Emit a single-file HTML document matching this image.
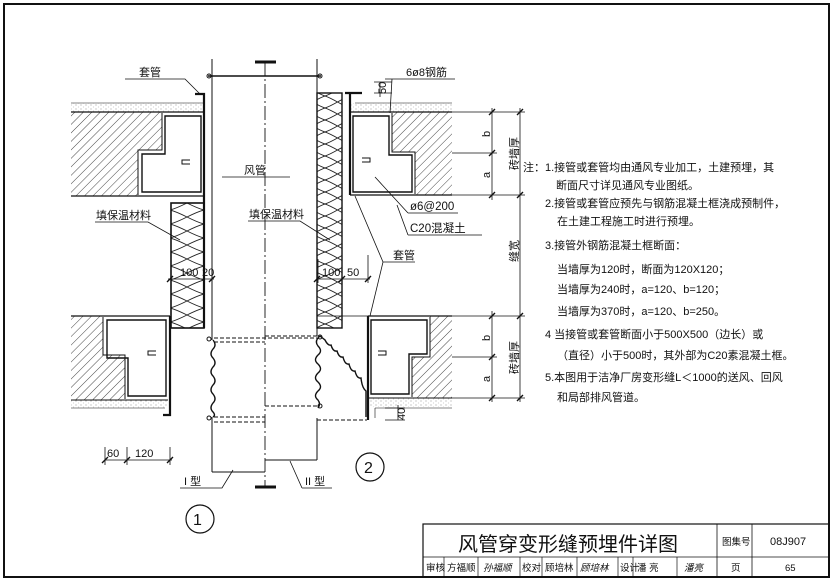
<!DOCTYPE html>
<html><head><meta charset="utf-8"><style>
html,body{margin:0;padding:0;background:#fff}
svg{display:block}
text{font-family:"Liberation Sans","Noto Sans CJK SC",sans-serif;fill:#111}
</style></head><body>
<svg width="834" height="581" viewBox="0 0 834 581" xmlns="http://www.w3.org/2000/svg">
<defs>
<pattern id="h" width="6" height="6" patternUnits="userSpaceOnUse" patternTransform="rotate(45)">
<line x1="0" y1="0" x2="0" y2="6" stroke="#333" stroke-width="0.9"/></pattern>
<pattern id="dot" width="5" height="4" patternUnits="userSpaceOnUse">
<circle cx="1" cy="1" r="0.5" fill="#777"/><circle cx="3.5" cy="3" r="0.4" fill="#999"/></pattern>
<pattern id="ins" width="34" height="14" patternUnits="userSpaceOnUse">
<path d="M0,0 C12,3 22,11 34,14 M34,0 C22,3 12,11 0,14" fill="none" stroke="#222" stroke-width="0.9"/></pattern>
<pattern id="ins2" width="25" height="12" patternUnits="userSpaceOnUse">
<path d="M0,0 C9,3 16,9 25,12 M25,0 C16,3 9,9 0,12" fill="none" stroke="#222" stroke-width="0.9"/></pattern>
</defs>
<g fill="none" stroke="#111">
<!-- frame -->
<rect x="4" y="4" width="825" height="573" stroke-width="2"/>
<!-- title block -->
<rect x="423" y="524" width="406" height="53" stroke-width="1.2"/>
<line x1="423" y1="557" x2="829" y2="557" stroke-width="0.8"/>
<line x1="717" y1="524" x2="717" y2="577" stroke-width="0.8"/>
<line x1="752" y1="524" x2="752" y2="577" stroke-width="0.8"/>
<g stroke-width="0.7">
<line x1="444" y1="557" x2="444" y2="577"/><line x1="478" y1="557" x2="478" y2="577"/>
<line x1="520" y1="557" x2="520" y2="577"/><line x1="542" y1="557" x2="542" y2="577"/>
<line x1="577" y1="557" x2="577" y2="577"/><line x1="618" y1="557" x2="618" y2="577"/>
<line x1="633" y1="557" x2="633" y2="577"/><line x1="677" y1="557" x2="677" y2="577"/>
</g>

<!-- LEFT TOP WALL -->
<rect x="71" y="103" width="133" height="9" fill="url(#dot)" stroke="none"/>
<line x1="71" y1="103" x2="204" y2="103" stroke-width="0.6"/>
<path d="M71,112 H162 V150 H138 V196 H71 Z" fill="url(#h)" stroke="none"/>
<line x1="71" y1="112" x2="204" y2="112" stroke-width="1.2"/>
<line x1="71" y1="196" x2="204" y2="196" stroke-width="1.2"/>
<path d="M162,113 V150 H138 V195" stroke-width="1"/>
<path d="M165,116 H201 V192 H142 V154 H165 Z" stroke-width="1.4"/>
<!-- sleeve left -->
<path d="M195,94 H204 V328" stroke-width="2.2"/>
<!-- LEFT BOTTOM WALL -->
<path d="M71,316 H103 V355 H125 V400 H71 Z" fill="url(#h)" stroke="none"/>
<line x1="71" y1="316" x2="170" y2="316" stroke-width="1.2"/>
<rect x="71" y="400" width="97" height="8" fill="url(#dot)" stroke="none"/>
<line x1="71" y1="400" x2="168" y2="400" stroke-width="1"/>
<line x1="71" y1="408" x2="165" y2="408" stroke-width="0.6"/>
<path d="M103,317 V355 H125 V399" stroke-width="1"/>
<path d="M107,320 H166 V396 H128 V358 H107 Z" stroke-width="1.4"/>
<path d="M170,316 V415 H163" stroke-width="2.2"/>
<!-- insulation left -->
<rect x="171" y="203" width="33" height="125" fill="url(#ins)" stroke-width="1.6"/>
<!-- RIGHT TOP WALL -->
<rect x="350" y="103" width="102" height="9" fill="url(#dot)" stroke="none"/>
<line x1="355" y1="103" x2="452" y2="103" stroke-width="0.6"/>
<path d="M392,112 H452 V195 H415 V152 H392 Z" fill="url(#h)" stroke="none"/>
<line x1="350" y1="112" x2="452" y2="112" stroke-width="1.2"/>
<line x1="350" y1="195" x2="452" y2="195" stroke-width="1.2"/>
<path d="M392,113 V152 H415 V194" stroke-width="1"/>
<path d="M353,116 H389 V155 H412 V192 H353 Z" stroke-width="1.4"/>
<path d="M345,93 H362 M350,93 V195" stroke-width="2.2"/>
<!-- RIGHT BOTTOM WALL -->
<path d="M430,316 H452 V398 H412 V357 H430 Z" fill="url(#h)" stroke="none"/>
<line x1="317" y1="316" x2="452" y2="316" stroke-width="0.8"/>
<line x1="368" y1="316" x2="452" y2="316" stroke-width="1.2"/>
<rect x="370" y="398" width="82" height="9" fill="url(#dot)" stroke="none"/>
<line x1="368" y1="398" x2="452" y2="398" stroke-width="1"/>
<path d="M375,408 H452 M375,408 V418" stroke-width="0.6"/>
<path d="M430,317 V357 H412 V397" stroke-width="1"/>
<path d="M371,320 H427 V354 H409 V394 H371 Z" stroke-width="1.4"/>
<path d="M368,316 V420" stroke-width="2.2"/>
<!-- insulation right -->
<rect x="317" y="93" width="25" height="235" fill="url(#ins2)" stroke-width="1.4"/>
<!-- nubs -->
<g stroke-width="1"><path d="M190,160 h-8 v4 h8 M156,351 h-8 v4 h8 M362,158 h8 v4 h-8 M378,351 h8 v4 h-8"/></g>

<!-- DUCT -->
<line x1="212" y1="59" x2="212" y2="340" stroke-width="1"/>
<line x1="212" y1="417" x2="212" y2="472" stroke-width="1"/>
<line x1="317" y1="59" x2="317" y2="336" stroke-width="1"/>
<line x1="317" y1="418" x2="317" y2="460" stroke-width="1"/>
<path d="M212,472 H265 M317,460 H265" stroke-width="1"/>
<line x1="265" y1="62" x2="265" y2="487" stroke-width="0.9" stroke-dasharray="14,3,2,3"/>
<path d="M255,62 H276 M255,487 H276" stroke-width="3"/>
<line x1="208" y1="76" x2="321" y2="76" stroke-width="1.4"/>
<circle cx="209" cy="76" r="2"/><circle cx="320" cy="76" r="2"/>
<!-- bolted joints -->
<g stroke-width="1" stroke-dasharray="4,2">
<path d="M214,338 H317 M214,342 H265 M265,336 H317 M214,417 H265 M214,422 H265 M265,406 H317 M317,420 H367"/>
</g>
<circle cx="209" cy="339" r="2"/><circle cx="209" cy="418" r="2"/><circle cx="320" cy="337" r="2"/><circle cx="320" cy="406" r="2"/>
<!-- flexible -->
<path d="M213,340 q4,5 0,9 q-4,5 0,9 q4,5 0,9 q-4,5 0,9 q4,5 0,9 q-4,5 0,9 q4,5 0,9 q-4,5 0,9 q3,3 0,5" stroke-width="1.4"/>
<path d="M320,336 q-6,5 -2,10 q5,5 0,9 q-5,5 0,9 q5,5 0,9 q-5,5 0,9 q5,5 0,9 q-5,5 0,9 q3,4 0,8" stroke-width="1.4"/>
<path d="M320,336 l5,4 q3,6 6,5 q2,7 6,6 q2,7 6,6 q2,8 6,7 q2,8 6,7 q2,8 6,7 q1,10 5,13 l0,26" stroke-width="1.4"/>

<!-- leaders -->
<g stroke-width="0.8">
<path d="M125,79 H185 L200,94"/>
<path d="M222,177 H290"/>
<path d="M95,222 H148 L180,240"/>
<path d="M248,221 H300 L330,240"/>
<path d="M385,79 H455 M392,79 L390,113"/>
<path d="M408,213 H458 M408,213 L375,177"/>
<path d="M408,235 H482 M408,235 L397,205"/>
<path d="M383,262 H415 M383,262 L355,196 M383,262 L370,316"/>
<path d="M180,488 H222 L233,470"/>
<path d="M302,488 H332 M302,488 L290,461"/>
<!-- dims -->
<path d="M168,279 H214 M317,279 H370 M342,265 V283 M368,255 V283 M318,259 V283"/>
<path d="M105,460 H172 M105,447 V465 M127,447 V465 M170,447 V465"/>
<path d="M380,82 V97 M374,82 H392 M374,93 H392"/>
<path d="M398,405 V420 M385,408 H405 M385,420 H405"/>
<path d="M452,112 H525 M452,153 H497 M452,195 H525 M452,316 H525 M452,357 H497 M452,398 H525"/>
<path d="M492,108 V200 M520,108 V402 M492,311 V402"/>
</g>
<g stroke-width="1.4">
<path d="M489,115 l6,-6 M489,156 l6,-6 M489,198 l6,-6 M517,115 l6,-6 M517,198 l6,-6 M489,319 l6,-6 M489,360 l6,-6 M489,401 l6,-6 M517,319 l6,-6 M517,401 l6,-6"/>
<path d="M102,463 l6,-6 M124,463 l6,-6 M167,463 l6,-6 M167,282 l6,-6 M209,282 l6,-6 M314,282 l6,-6 M339,282 l6,-6 M365,282 l6,-6"/>
</g>
<circle cx="200" cy="519" r="14" stroke-width="1.2"/>
<circle cx="370" cy="467" r="14" stroke-width="1.2"/>
</g>

<g font-size="11">
<text x="139" y="76">套管</text>
<text x="244" y="174">风管</text>
<text x="96" y="219">填保温材料</text>
<text x="249" y="218">填保温材料</text>
<text x="406" y="76">6ø8钢筋</text>
<text x="410" y="210" font-size="11.5">ø6@200</text>
<text x="410" y="232" font-size="11.5">C20混凝土</text>
<text x="393" y="259">套管</text>
<text x="180" y="276">100</text><text x="202" y="276">20</text>
<text x="322" y="276">100</text><text x="347" y="276">50</text>
<text x="107" y="457">60</text><text x="135" y="457">120</text>
<text x="184" y="485">I 型</text><text x="305" y="485">II 型</text>
<text x="386" y="94" transform="rotate(-90 386 94)">50</text>
<text x="405" y="420" transform="rotate(-90 405 420)">40</text>
<text x="490" y="137" transform="rotate(-90 490 137)">b</text>
<text x="490" y="178" transform="rotate(-90 490 178)">a</text>
<text x="490" y="341" transform="rotate(-90 490 341)">b</text>
<text x="490" y="382" transform="rotate(-90 490 382)">a</text>
<text x="518" y="170" transform="rotate(-90 518 170)">砖墙厚</text>
<text x="518" y="262" transform="rotate(-90 518 262)">缝宽</text>
<text x="518" y="374" transform="rotate(-90 518 374)">砖墙厚</text>
<text x="193" y="525" font-size="16">1</text>
<text x="364" y="473" font-size="16">2</text>
</g>
<g font-size="11">
<text x="523" y="171">注：1.接管或套管均由通风专业加工，土建预埋，其</text>
<text x="556" y="189">断面尺寸详见通风专业图纸。</text>
<text x="545" y="207">2.接管或套管应预先与钢筋混凝土框浇成预制件，</text>
<text x="557" y="225">在土建工程施工时进行预埋。</text>
<text x="545" y="249">3.接管外钢筋混凝土框断面：</text>
<text x="557" y="273">当墙厚为120时，断面为120X120；</text>
<text x="557" y="293">当墙厚为240时，a=120、b=120；</text>
<text x="557" y="315">当墙厚为370时，a=120、b=250。</text>
<text x="545" y="338">4  当接管或套管断面小于500X500（边长）或</text>
<text x="557" y="359">（直径）小于500时，其外部为C20素混凝土框。</text>
<text x="545" y="381">5.本图用于洁净厂房变形缝L＜1000的送风、回风</text>
<text x="557" y="401">和局部排风管道。</text>
</g>
<text x="458" y="551" font-size="20">风管穿变形缝预埋件详图</text>
<g font-size="9.5" fill="#333">
<text x="722" y="545">图集号</text>
<text x="770" y="545" font-family="Liberation Serif,serif" font-size="11">08J907</text>
<text x="426" y="571">审核</text><text x="447" y="571">方福顺</text>
<text x="483" y="571" font-style="italic">孙福顺</text>
<text x="522" y="571">校对</text><text x="545" y="571">顾培林</text>
<text x="580" y="571" font-style="italic">顾培林</text>
<text x="620" y="571">设计</text><text x="637" y="571">潘 亮</text>
<text x="684" y="571" font-style="italic">潘亮</text>
<text x="731" y="571">页</text>
<text x="785" y="571" font-family="Liberation Serif,serif">65</text>
</g>
</svg>
</body></html>
